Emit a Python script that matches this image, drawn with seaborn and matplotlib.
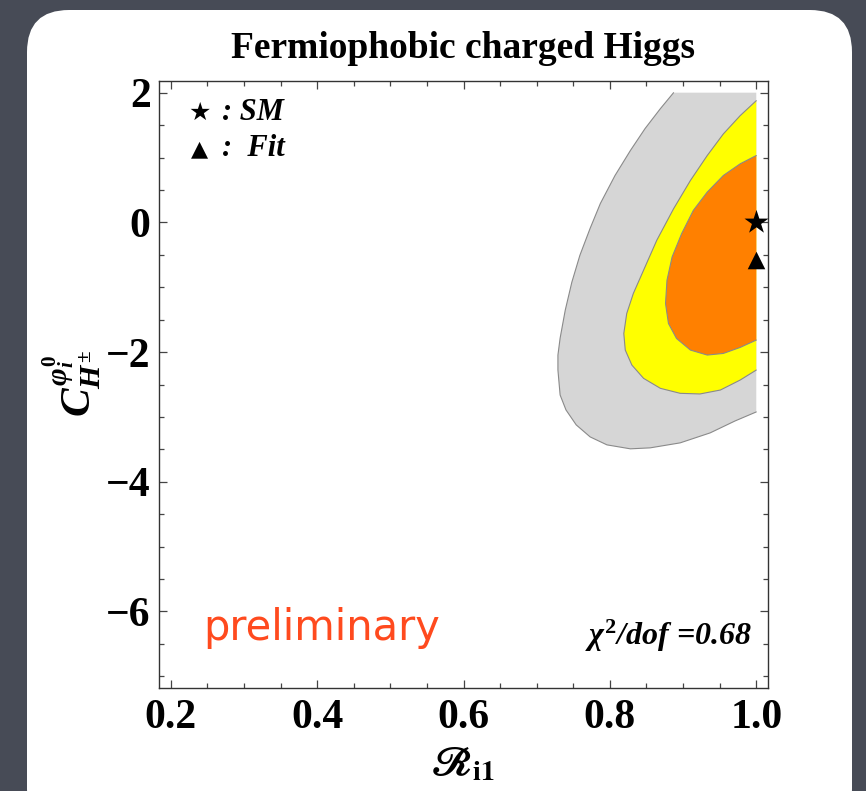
import matplotlib
matplotlib.use("Agg")
import matplotlib.pyplot as plt
from matplotlib.patches import FancyBboxPatch
from matplotlib.transforms import IdentityTransform
from matplotlib.ticker import MultipleLocator
import pandas as pd
import seaborn as sns

sns.set_theme(style="ticks")
plt.rcParams["font.family"] = ["Liberation Serif", "DejaVu Sans"]
plt.rcParams["font.weight"] = "bold"
plt.rcParams["text.color"] = "black"
plt.rcParams["mathtext.fontset"] = "custom"
plt.rcParams["mathtext.rm"] = "Liberation Serif:bold"
plt.rcParams["mathtext.it"] = "Liberation Serif:italic:bold"
plt.rcParams["mathtext.bf"] = "Liberation Serif:bold"

# Allowed regions in the (R_i1, C) plane, outer boundary of each band
band3_R = [0.887, 0.869, 0.848, 0.828, 0.807, 0.787, 0.773, 0.759, 0.748, 0.739, 0.732,
           0.729, 0.729, 0.732, 0.740, 0.754, 0.773, 0.796, 0.828, 0.855, 0.896, 0.937,
           0.971, 1.000]
band3_C = [2.000, 1.754, 1.446, 1.108, 0.723, 0.292, -0.092, -0.508, -0.923, -1.354, -1.785,
           -2.046, -2.277, -2.662, -2.892, -3.123, -3.308, -3.431, -3.492, -3.477, -3.400,
           -3.246, -3.062, -2.923]

band2_R = [1.000, 0.978, 0.955, 0.933, 0.910, 0.887, 0.864, 0.846, 0.832, 0.823, 0.819,
           0.821, 0.830, 0.846, 0.869, 0.896, 0.923, 0.951, 0.978, 1.000]
band2_C = [1.877, 1.646, 1.364, 1.031, 0.646, 0.210, -0.277, -0.738, -1.097, -1.405, -1.713,
           -1.969, -2.200, -2.405, -2.559, -2.636, -2.646, -2.585, -2.431, -2.277]

band1_R = [1.000, 0.978, 0.955, 0.933, 0.914, 0.898, 0.885, 0.878, 0.876, 0.880, 0.891,
           0.910, 0.933, 0.955, 0.978, 1.000]
band1_C = [1.031, 0.903, 0.723, 0.467, 0.185, -0.174, -0.533, -0.892, -1.251, -1.559, -1.790,
           -1.969, -2.046, -2.021, -1.928, -1.815]

points = pd.DataFrame({
    "R": [1.0, 1.0],
    "C": [0.0, -0.58],
    "label": ["SM", "Fit"],
})

x_ticks = [0.2, 0.4, 0.6, 0.8, 1.0]
y_ticks = [-6, -4, -2, 0, 2]

W, H = 866, 791
fig = plt.figure(figsize=(W / 100, H / 100), dpi=100)
fig.patch.set_facecolor("#474b56")

# white rounded slide panel behind everything
panel = FancyBboxPatch((27, -40), 825, H - 10 + 40,
                       boxstyle="round,pad=0,rounding_size=42",
                       transform=IdentityTransform(), facecolor="white",
                       edgecolor="none", zorder=-10)
fig.patches.append(panel)

ax = fig.add_axes([159 / W, (H - 688) / H, 609 / W, 607 / H])
ax.set_facecolor("white")

edge = "#8a8a8a"
# 3-sigma band (gray), closed along R = 1 and C = 2
ax.fill(band3_R + [1.0], band3_C + [2.0], color="#d6d6d6", lw=0, zorder=1)
ax.fill(band2_R, band2_C, color="#ffff00", lw=0, zorder=2)
ax.fill(band1_R, band1_C, color="#ff8000", lw=0, zorder=3)
for bx, by, z in [(band3_R, band3_C, 1.5), (band2_R, band2_C, 2.5), (band1_R, band1_C, 3.5)]:
    ax.plot(bx, by, color=edge, lw=0.8, zorder=z, solid_joinstyle="round")

sm = points[points["label"] == "SM"]
fit = points[points["label"] == "Fit"]
sns.scatterplot(data=sm, x="R", y="C", marker="*", s=330, color="black",
                edgecolor="black", linewidth=0, ax=ax, zorder=5, clip_on=False)
sns.scatterplot(data=fit, x="R", y="C", marker="^", s=160, color="black",
                edgecolor="black", linewidth=0, ax=ax, zorder=5, clip_on=False)

ax.set_xlim(0.184, 1.016)
ax.set_ylim(-7.18, 2.18)
ax.set_xticks(x_ticks)
ax.set_yticks(y_ticks)
ax.set_xticklabels([f"{v:.1f}" for v in x_ticks])
ax.set_yticklabels([("\u2212" + str(-v)) if v < 0 else str(v) for v in y_ticks])
ax.xaxis.set_minor_locator(MultipleLocator(0.05))
ax.yaxis.set_minor_locator(MultipleLocator(0.5))
ax.tick_params(which="both", direction="in", top=True, right=True,
               color="#444444", width=0.9, labelcolor="black")
ax.tick_params(which="major", length=6, labelsize=30)
ax.tick_params(which="minor", length=3.6)
ax.tick_params(axis="x", which="major", pad=8)
ax.tick_params(axis="y", which="major", pad=6)
for lbl in ax.get_xticklabels() + ax.get_yticklabels():
    lbl.set_fontweight("bold")
for sp in ax.spines.values():
    sp.set_color("#333333")
    sp.set_linewidth(1.0)
ax.set_xlabel("")
ax.set_ylabel("")

fig.text(463 / W, (H - 58) / H, "Fermiophobic charged Higgs", ha="center",
         va="baseline", fontsize=27, fontweight="bold", color="black")
fig.text(462 / W, (H - 765) / H, "$\u211b_{\\mathbf{i1}}$", ha="center",
         va="center", fontsize=29, math_fontfamily="stix", color="black")
fig.text(72 / W, (H - 384) / H, r"$C_{H^{\pm}}^{\varphi_i^0}$", ha="center",
         va="center", rotation=90, fontsize=31, color="black")

# in-plot annotations
ax.text(0.067, 0.936, "\u2605", transform=ax.transAxes, ha="center", va="baseline",
        fontsize=18, family="DejaVu Sans", color="black")
ax.text(0.104, 0.936, ": SM", transform=ax.transAxes, ha="left", va="baseline",
        fontsize=22, fontstyle="italic", fontweight="bold", color="black")
ax.text(0.067, 0.877, "\u25b2", transform=ax.transAxes, ha="center", va="baseline",
        fontsize=16, family="DejaVu Sans", color="black")
ax.text(0.104, 0.877, ":  Fit", transform=ax.transAxes, ha="left", va="baseline",
        fontsize=22, fontstyle="italic", fontweight="bold", color="black")

ax.text(0.073, (688 - 640) / 607, "preliminary", transform=ax.transAxes,
        ha="left", va="baseline", fontsize=30, family="DejaVu Sans",
        fontweight="normal", color="#ff4a1e")
ax.text(0.974, (688 - 645) / 607, r"$\chi^2$/dof =0.68", transform=ax.transAxes,
        ha="right", va="baseline", fontsize=23, fontstyle="italic",
        fontweight="bold", color="black")

fig.savefig("out.png", dpi=100, facecolor=fig.get_facecolor())
